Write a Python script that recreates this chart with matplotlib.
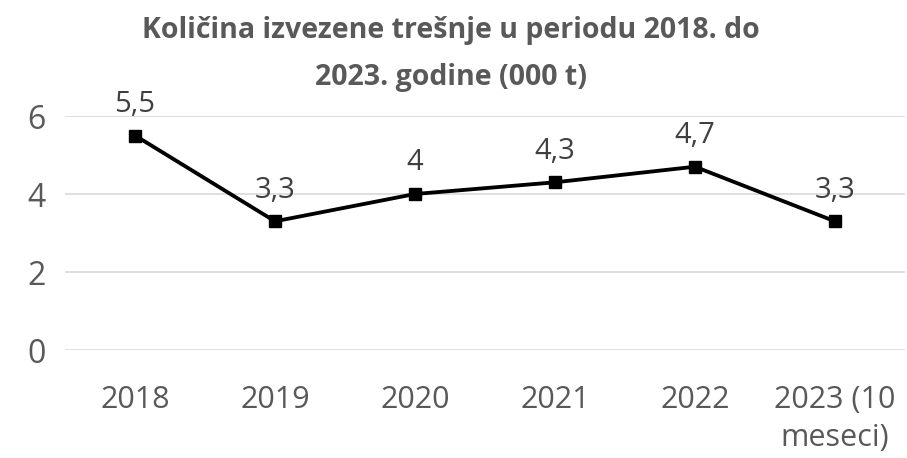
import matplotlib.pyplot as plt

categories = ['2018', '2019', '2020', '2021', '2022', '2023 (10\nmeseci)']
values = [5.5, 3.3, 4.0, 4.3, 4.7, 3.3]
labels = ['5,5', '3,3', '4', '4,3', '4,7', '3,3']

plt.rcParams['font.family'] = ['Open Sans', 'DejaVu Sans']

fig = plt.figure(figsize=(9.07, 4.58), dpi=100)
ax = fig.add_axes([0.0717, 0.2358, 0.926, 0.5109])

x = range(len(categories))
ax.plot(x, values, color='black', linewidth=2.75, marker='s', markersize=9)

for xi, v, lab in zip(x, values, labels):
    ax.annotate(lab, (xi, v), xytext=(0, 12), textcoords='offset points',
                ha='center', va='bottom', fontsize=21, color='#404040')

ax.set_xlim(-0.5, 5.5)
ax.set_ylim(0, 6)
ax.set_yticks([0, 2, 4, 6])
ax.set_xticks(list(x))
ax.set_xticklabels(categories, fontsize=22, color='#595959', linespacing=1.35)
ax.tick_params(axis='y', labelsize=23, labelcolor='#595959', length=0, pad=14)
ax.tick_params(axis='x', length=0, pad=25)
ax.grid(axis='y', color='#d9d9d9', linewidth=1.2)
ax.set_axisbelow(True)
for s in ax.spines.values():
    s.set_visible(False)

fig.text(0.497, 0.965, 'Količina izvezene trešnje u periodu 2018. do\n2023. godine (000 t)',
         ha='center', va='top', fontsize=20.5, fontweight='bold', color='#595959',
         linespacing=1.8)

fig.savefig('out.png', dpi=100)
